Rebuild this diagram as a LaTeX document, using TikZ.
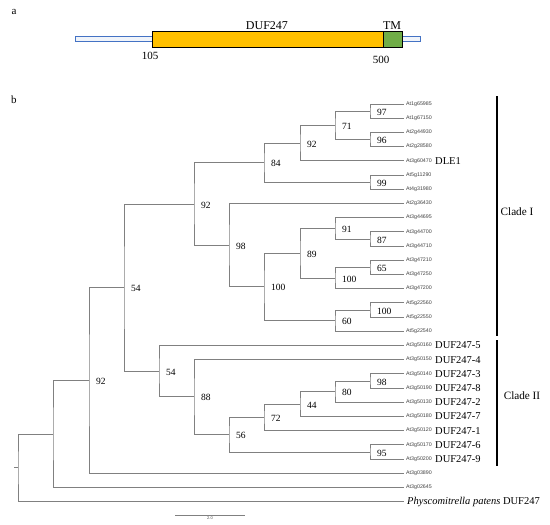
\documentclass[tikz,border=0pt]{standalone}
\usepackage{fontspec}
\setmainfont{Liberation Serif}
\newfontfamily\leaffont{Liberation Sans}
\usetikzlibrary{positioning}
\definecolor{duforange}{RGB}{255,192,0}
\definecolor{tmgreen}{RGB}{112,173,71}
\definecolor{barblue}{RGB}{68,114,196}
\tikzset{
  branch/.style={draw=black!50,line width=0.7pt},
  leaf/.style={anchor=west,inner xsep=2pt,inner ysep=0.5pt,text=black!75,font=\leaffont\fontsize{5.3}{6}\selectfont},
  boot/.style={anchor=west,inner sep=0.5pt,xshift=6.5pt,yshift=-1pt,font=\fontsize{9.5}{10}\selectfont},
  gene/.style={inner sep=0pt,font=\fontsize{10.5}{12}\selectfont},
  clade/.style={font=\fontsize{11.2}{13}\selectfont},
  domlabel/.style={inner sep=0pt,font=\fontsize{12}{14}\selectfont},
}
\begin{document}
\begin{tikzpicture}[x=1pt,y=-1pt]
\useasboundingbox (0,0) rectangle (550,525);
% panel a: domain structure
\node[font=\fontsize{11}{13}\selectfont] (panela) at (14,12) {a};
\draw[barblue,fill=barblue!8,line width=0.6pt] (75,36) rectangle (420,41);
\draw[fill=duforange,line width=0.6pt] (152,31) rectangle (383,47);
\draw[fill=tmgreen,line width=0.6pt] (383,31) rectangle (402,47);
\node[domlabel] (duf) at (267,25.5) {DUF247};
\node[domlabel] (tm) at (392,25.5) {TM};
\node[inner sep=0pt,font=\fontsize{11}{13}\selectfont] (start) at (150,56) {105};
\node[inner sep=0pt,font=\fontsize{11}{13}\selectfont] (stop) at (381,60) {500};
% panel b: tree
\node[font=\fontsize{11}{13}\selectfont] (panelb) at (14,100) {b};
\foreach \g [count=\i] in {At1g65985,At1g67150,At2g44930,At2g28580,At3g60470,At5g11290,At4g31980,
  At2g36430,At3g44695,At3g44700,At3g44710,At3g47210,At3g47250,At3g47200,At5g22560,At5g22550,At5g22540,
  At3g50160,At3g50150,At3g50140,At3g50190,At3g50130,At3g50180,At3g50120,At3g50170,At3g50200,
  At3g03890,At3g02645}
  \node[leaf] (\g) at (404,{104+14.2*(\i-1)}) {\g};
\node[gene,anchor=west,inner xsep=3pt] (phys) at (404,501.6) {\textit{Physcomitrella patens} DUF247};
% gene names
\node[gene,right=1pt of At3g60470] (dle1) {DLE1};
\foreach \g/\d in {At3g50160/5,At3g50150/4,At3g50140/3,At3g50190/8,At3g50130/2,
  At3g50180/7,At3g50120/1,At3g50170/6,At3g50200/9}
  \node[gene,right=1pt of \g] (duf\d) {DUF247-\d};
% internal nodes
\coordinate (n1) at (18,467.7);
\coordinate (n2) at (53,433.9);
\coordinate (rootstub) at (14,467.7);
\foreach \n/\x/\y/\b in {n3/89/380.3/92,n4/124/287.4/54,n5/194/203.9/92,n6/264/162.6/84,
  n7/300/143.05/92,n8/335/125.3/71,n9/370/111.1/97,n10/370/139.5/96,n11/370/182.1/99,
  n12/229/245.1/98,n13/264/286.8/100,n14/300/253.1/89,n15/335/228.25/91,n16/370/238.9/87,
  n17/335/277.95/100,n18/370/267.3/65,n19/335/320.55/60,n20/370/309.9/100,
  n21/159/371/54,n22/194/396.8/88,n23/229/434/56,n24/264/417.3/72,n25/300/404/44,
  n26/335/391.6/80,n27/370/380.9/98,n28/370/451.9/95}
{
  \coordinate (\n) at (\x,\y);
  \node[boot] (b\n) at (\n) {\b};
}
% clade I
\draw[branch] (At1g65985.west) -| (n9) |- (At1g67150.west);
\draw[branch] (At2g44930.west) -| (n10) |- (At2g28580.west);
\draw[branch] (n9) -| (n8) |- (n10);
\draw[branch] (n8) -| (n7) |- (At3g60470.west);
\draw[branch] (At5g11290.west) -| (n11) |- (At4g31980.west);
\draw[branch] (n7) -| (n6) |- (n11);
\draw[branch] (At3g44700.west) -| (n16) |- (At3g44710.west);
\draw[branch] (At3g44695.west) -| (n15) |- (n16);
\draw[branch] (At3g47210.west) -| (n18) |- (At3g47250.west);
\draw[branch] (n18) -| (n17) |- (At3g47200.west);
\draw[branch] (n15) -| (n14) |- (n17);
\draw[branch] (At5g22560.west) -| (n20) |- (At5g22550.west);
\draw[branch] (n20) -| (n19) |- (At5g22540.west);
\draw[branch] (n14) -| (n13) |- (n19);
\draw[branch] (At2g36430.west) -| (n12) |- (n13);
\draw[branch] (n6) -| (n5) |- (n12);
% clade II
\draw[branch] (At3g50140.west) -| (n27) |- (At3g50190.west);
\draw[branch] (n27) -| (n26) |- (At3g50130.west);
\draw[branch] (n26) -| (n25) |- (At3g50180.west);
\draw[branch] (n25) -| (n24) |- (At3g50120.west);
\draw[branch] (At3g50170.west) -| (n28) |- (At3g50200.west);
\draw[branch] (n24) -| (n23) |- (n28);
\draw[branch] (At3g50150.west) -| (n22) |- (n23);
\draw[branch] (At3g50160.west) -| (n21) |- (n22);
% base of the tree
\draw[branch] (n5) -| (n4) |- (n21);
\draw[branch] (n4) -| (n3) |- (At3g03890.west);
\draw[branch] (n3) -| (n2) |- (At3g02645.west);
\draw[branch] (n2) -| (n1) |- (phys.west);
\draw[branch] (n1) -- (rootstub);
% clade bars
\coordinate (c1top) at (497,96);
\coordinate (c1bot) at (497,336);
\coordinate (c2top) at (497,340);
\coordinate (c2bot) at (497,466);
\draw[line width=1.3pt] (c1top) -- (c1bot);
\draw[line width=1.3pt] (c2top) -- (c2bot);
\node[clade] (cladeI) at (517,212) {Clade I};
\node[clade] (cladeII) at (522,396) {Clade II};
% scale bar
\coordinate (sbl) at (175,515);
\coordinate (sbr) at (245,515);
\draw[branch] (sbl) -- (sbr) node[midway,below=1.5pt,inner sep=0pt,text=black!70,font=\leaffont\fontsize{4}{5}\selectfont] (sblabel) {2.0};
\end{tikzpicture}
\end{document}
